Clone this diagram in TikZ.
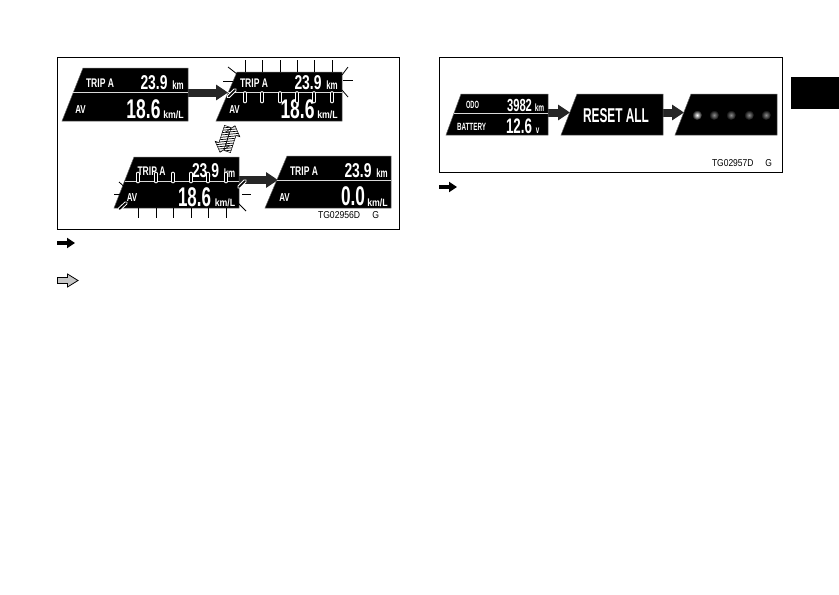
\documentclass[tikz,border=0pt]{standalone}
\usepackage{fontspec}
\usepackage{graphicx}
\setmainfont{Liberation Sans}
\usetikzlibrary{arrows.meta}
\newcommand\dt[3]{\resizebox{#2pt}{\height}{\fontsize{#1pt}{#1pt}\selectfont\bfseries #3}}
\tikzset{
  frame/.style={draw=black,line width=1pt,fill=white},
  dtxt/.style={text=white,inner sep=0pt,anchor=base},
  ctxt/.style={text=black,inner sep=0pt,anchor=base},
  fatarrow/.style={line width=8pt,draw=black!85,-{Triangle[width=15pt,length=12pt]}},
  legarrow/.style={line width=4pt,draw=black,-{Triangle[width=10pt,length=8pt]}},
  disp/.style={fill=black,draw=black!60,line width=.5pt},
  divider/.style={draw=white!85!black,line width=.8pt},
  ray/.style={draw=black,line width=.8pt},
  capsule/.style={draw=black,line width=4.4pt,line cap=round},
  capsulewhite/.style={draw=white,line width=3.6pt,line cap=round},
  capsulein/.style={draw=black,line width=1.7pt,line cap=round},
}
% name, bottom-left x, top-left x, right x, top y, bottom y, divider y
\newcommand\dispshape[7]{%
  \fill[disp] (#2,#6) -- (#3,#5) -- (#4,#5) -- (#4,#6) -- cycle;
  \coordinate (#1e) at (#4,#7);
  \coordinate (#1dr) at (#4,#7);
  \coordinate (#1dl) at ({#2+(#3-#2)*(#6-#7)/(#6-#5)},#7);
  \draw[divider] (#1dl) -- (#1dr);
}
% name prefix, x offset, y offset
\newcommand\dispfull[3]{%
  \node[dtxt] (#1a) at (#2+100,#3+87) {\dt{12.5}{28}{TRIP A}};
  \node[dtxt] (#1b) at (#2+154,#3+89) {\dt{20}{27}{23.9}};
  \node[dtxt] (#1c) at (#2+178,#3+89) {\dt{12}{11.5}{km}};
  \node[dtxt] (#1d) at (#2+80.5,#3+113) {\dt{11.5}{10.5}{AV}};
  \node[dtxt] (#1f) at (#2+173.5,#3+118) {\dt{10.5}{20.5}{km/L}};
}
\newcommand\capsuleseg[2]{%
  \draw[capsulewhite] (#1) -- (#2);
  \draw[capsulein] (#1) -- (#2);
}
\begin{document}
\begin{tikzpicture}[x=1pt,y=-1pt]
\useasboundingbox (0,0) rectangle (839,595);
\fill[white] (0,0) rectangle (839,595);
% frames
\draw[frame] (57,57) rectangle (399.5,229);
\draw[frame] (439,57) rectangle (782,172);
% tab
\fill[black] (791,77) rectangle (839,109);

% connectors first (under the displays' marks)
\coordinate (dbw) at (228,92.5);
\coordinate (ddw) at (278,180);
\coordinate (dcr) at (239,180);
\coordinate (dax) at (188,92.5);
\draw[fatarrow] (dax) -- (dbw);
\draw[fatarrow] (dcr) -- (ddw);

% display 1
\dispshape{da}{62}{83}{188}{68}{121}{92}
\dispfull{da}{0}{0}
\node[dtxt] (dav) at (143.5,118) {\dt{27}{34}{18.6}};
% display 2
\dispshape{db}{216}{237}{342}{72}{121}{92}
\dispfull{db}{154}{0}
\node[dtxt] (dbv) at (297.5,118) {\dt{27}{34}{18.6}};
% display 3
\dispshape{dc}{114}{134}{239}{157}{208}{181}
\dispfull{dc}{51.5}{88}
\node[dtxt] (dcv) at (194.5,206) {\dt{27}{33}{18.6}};
% display 4
\dispshape{dd}{265}{287}{391}{156}{208}{180}
\dispfull{dd}{204}{88}
\node[dtxt] (ddv) at (353,205) {\dt{27}{24}{0.0}};

% flashing marks display 2
\foreach \x in {245,262,280,297,314,332}{
  \draw[ray] (\x,60) -- (\x,72);
  \capsuleseg{\x,93}{\x,101.5}
}
\draw[ray] (228,67) -- (237,74);
\draw[ray] (223,81) -- (233,81);
\capsuleseg{228.5,96.5}{235,90}
\draw[ray] (342,75) -- (348,67);
\draw[ray] (343,80) -- (353,80);
\draw[ray] (342,90) -- (348,97);
% flashing marks display 3
\foreach \x in {138,156,173,191,208,226}{
  \capsuleseg{\x,173.5}{\x,181.5}
  \draw[ray] (\x,208) -- (\x,218);
}
\draw[ray] (119,182) -- (127,189);
\draw[ray] (114,194) -- (124,194);
\capsuleseg{119.5,209}{126,203}
\capsuleseg{239,187}{245,181}
\draw[ray] (242,194) -- (251,194);
\draw[ray] (238,203) -- (246,211);

% hatched double arrow
\begin{scope}[shift={(227.5,139)},rotate=-18]
  \def\uparr{(0,-15) -- (8,-6) -- (4,-6) -- (4,12) -- (-3,12) -- (-3,-6) -- (-7,-6) -- cycle}
  \begin{scope}
    \clip[shift={(3,0)}] \uparr;
    \foreach \v in {-24,-21.5,...,24}{\draw[line width=.7pt] (-14,\v) -- (14,\v-12);}
  \end{scope}
  \draw[line width=.5pt,shift={(3,0)}] \uparr;
  \begin{scope}[rotate=180]
    \begin{scope}
      \clip[shift={(3,0)}] \uparr;
      \foreach \v in {-24,-21.5,...,24}{\draw[line width=.7pt] (-14,\v) -- (14,\v-12);}
    \end{scope}
    \draw[line width=.5pt,shift={(3,0)}] \uparr;
  \end{scope}
\end{scope}

\node[ctxt] (codeA) at (348.5,218) {\resizebox{61pt}{\height}{\fontsize{10pt}{10pt}\selectfont TG02956D\hspace{1.4em}G}};

% legend left
\coordinate (la1) at (57,243);
\coordinate (la2) at (75,243);
\draw[legarrow] (la1) -- (la2);
\draw[fill=black!22,draw=black,line width=.8pt] (57.5,277.5) -- (67.5,277.5) -- (67.5,274) -- (78,280.5) -- (67.5,287) -- (67.5,283.5) -- (57.5,283.5) -- cycle;

% right panel arrows
\coordinate (rax) at (548,112.5);
\coordinate (raw) at (570,112.5);
\coordinate (rbe) at (663,112.5);
\coordinate (rcw) at (684,112.5);
\draw[fatarrow] (rax) -- (raw);
\draw[fatarrow] (rbe) -- (rcw);

\dispshape{ra}{446}{461}{548}{94}{135}{113}
\node[dtxt] (raa) at (472.5,108) {\dt{10.5}{13}{ODO}};
\node[dtxt] (rab) at (519.5,111) {\dt{17.5}{25}{3982}};
\node[dtxt] (rac) at (539.5,111) {\dt{10.5}{9.5}{km}};
\node[dtxt] (rad) at (471.5,130) {\dt{10.5}{29}{BATTERY}};
\node[dtxt] (rae) at (519,133) {\dt{21}{26}{12.6}};
\node[dtxt] (raf) at (537.5,133) {\dt{10.5}{3.5}{v}};

\fill[disp] (561,135) -- (577,94) -- (663,94) -- (663,135) -- cycle;
\node[dtxt] (rbt) at (616,122) {\dt{20}{66}{RESET ALL}};

\fill[disp] (675,135) -- (691,94) -- (777,94) -- (777,135) -- cycle;
\foreach \x/\c in {697/white,714/black!45,731/black!45,749/black!45,766/black!45}{
  \shade[inner color=\c,outer color=black] (\x,115) circle (5pt);
}
\node[ctxt] (codeB) at (742,166) {\resizebox{60pt}{\height}{\fontsize{10pt}{10pt}\selectfont TG02957D\hspace{1.4em}G}};

\coordinate (lb1) at (439,187);
\coordinate (lb2) at (457,187);
\draw[legarrow] (lb1) -- (lb2);
\end{tikzpicture}
\end{document}
